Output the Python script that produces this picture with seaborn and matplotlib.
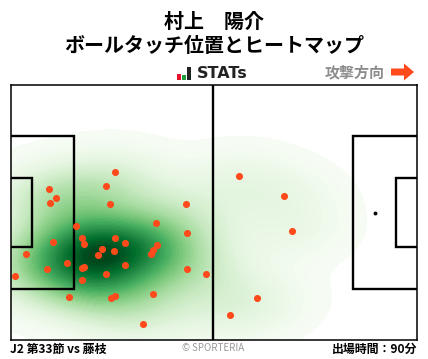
import matplotlib
matplotlib.use("Agg")
import matplotlib.pyplot as plt
from matplotlib.patches import Rectangle, FancyArrow
import pandas as pd
import seaborn as sns

# ボールタッチ位置 (pitch units, origin top-left of the pitch)
touch_x = [104.8, 95.8, 38.8, 45.8, 39.8, 99.8, 175.8, 145.8, 65.8, 176.8, 71.8, 104.8,
           42.8, 114.8, 73.8, 146.8, 91.8, 103.8, 142.8, 140.8, 87.8, 15.8, 114.8, 56.8,
           36.8, 73.8, 71.8, 176.8, 195.8, 95.8, 4.8, 71.8, 142.8, 58.8, 104.8, 100.8,
           132.8, 228.8, 273.8, 281.8, 246.8, 219.8]
touch_y = [87.3, 101.3, 104.3, 113.3, 118.3, 119.3, 119.3, 138.3, 141.3, 148.3, 153, 153,
           157.3, 158.3, 159.3, 160.3, 164.3, 166.3, 165.3, 169.3, 170.3, 169.3, 180.3, 178.3,
           184.3, 182.3, 183.3, 184.3, 189.3, 189.3, 191.3, 195.3, 209.3, 212.3, 211.3, 213.3,
           239.3, 91.3, 111.3, 146.3, 213.3, 230.3]

PITCH_W = 406
PITCH_H = 255

title_name = "村上　陽介"
title_sub = "ボールタッチ位置とヒートマップ"
footer_left = "J2 第33節 vs 藤枝"
footer_mid = "© SPORTERIA"
footer_right = "出場時間：90分"

plt.rcParams["font.family"] = ["Noto Sans CJK JP", "DejaVu Sans"]

df = pd.DataFrame({"x": touch_x, "y": touch_y})

W, H = 428, 359
fig = plt.figure(figsize=(W / 100, H / 100), dpi=100)
ax = fig.add_axes([10.5 / W, 1 - 340 / H, PITCH_W / W, PITCH_H / H])

# ヒートマップ
sns.kdeplot(data=df, x="x", y="y", fill=True, cmap="Greens", levels=60, thresh=0.012,
            bw_adjust=1.08, gridsize=220, cut=6, antialiased=False, ax=ax, zorder=1)
sns.scatterplot(data=df, x="x", y="y", color="#ff4a1c", s=26, linewidth=0, ax=ax, zorder=4)

ax.set_xlim(0, PITCH_W)
ax.set_ylim(PITCH_H, 0)
ax.set_xlabel("")
ax.set_ylabel("")
ax.set_xticks([])
ax.set_yticks([])
for s in ax.spines.values():
    s.set_linewidth(1.1)
    s.set_color("black")
    s.set_zorder(6)

# ピッチのライン
line = dict(fill=False, edgecolor="black", linewidth=1.7, zorder=3)
ax.add_patch(Rectangle((-5, 51), 68.5, 153, **line))
ax.add_patch(Rectangle((-5, 93), 26, 69, **line))
ax.add_patch(Rectangle((342, 51), 70, 153, **line))
ax.add_patch(Rectangle((385, 93), 26, 69, **line))
ax.plot([202.5, 202.5], [0, PITCH_H], color="black", lw=1.7, zorder=3)
ax.plot([364], [127.5], "o", color="black", ms=2.8, mew=0, zorder=3)

# テキスト
fig.text(214 / W, 1 - 21 / H, title_name, ha="center", va="center", fontsize=14.4, fontweight="bold")
fig.text(214 / W, 1 - 45 / H, title_sub, ha="center", va="center", fontsize=14.4, fontweight="bold")
fig.text(197 / W, 1 - 73.5 / H, "STATs", ha="left", va="center", fontsize=11.5, fontweight="bold",
         family="DejaVu Sans", color="#222222")
fig.text(355 / W, 1 - 72 / H, "攻撃方向", ha="center", va="center", fontsize=10.8, fontweight="bold",
         color="#8c8c8c")
fig.text(10 / W, 1 - 349 / H, footer_left, ha="left", va="center", fontsize=8.6, fontweight="bold")
fig.text(213 / W, 1 - 348 / H, footer_mid, ha="center", va="center", fontsize=7, color="#999999")
fig.text(417 / W, 1 - 349 / H, footer_right, ha="right", va="center", fontsize=8.6, fontweight="bold")

# STATsロゴと矢印
overlay = fig.add_axes([0, 0, 1, 1], zorder=-1)
overlay.set_xlim(0, W)
overlay.set_ylim(H, 0)
overlay.axis("off")
overlay.add_patch(Rectangle((177, 74), 4, 6, color="#e8112d", lw=0))
overlay.add_patch(Rectangle((182, 75), 4, 5, color="#1f9e3f", lw=0))
overlay.add_patch(Rectangle((187, 67), 4, 13, color="#222222", lw=0))
overlay.add_patch(FancyArrow(391, 72, 23, 0, width=7, head_width=17, head_length=10,
                             length_includes_head=True, color="#ff4a1c", lw=0))

fig.savefig("out.png", dpi=100)
